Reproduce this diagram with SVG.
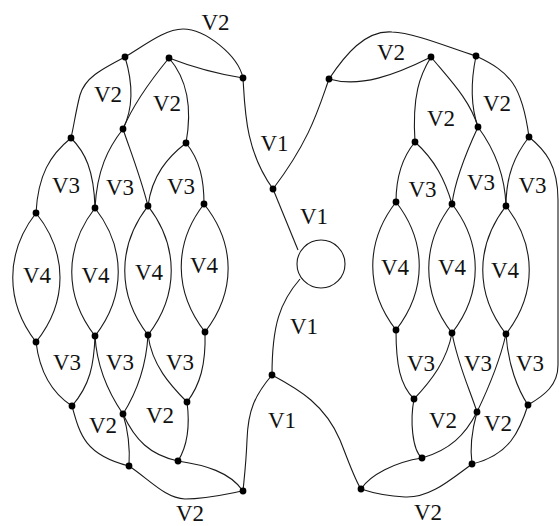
<svg xmlns="http://www.w3.org/2000/svg" width="559" height="526" viewBox="0 0 559 526">
<style>
.e{fill:none;stroke:#1a1a1a;stroke-width:1.1}
.d{fill:#000}
.t{font-family:"Liberation Serif","Times New Roman",serif;font-size:23px;fill:#111;text-anchor:middle}
</style>
<defs><circle id="dot" r="3.4" class="d"/></defs>
<rect width="559" height="526" fill="#fff"/>
<g id="connectors">
<path class="e" d="M125,57 C145,45 165,29 183,29 C205,29 238,55 243,78"/>
<path class="e" d="M169,58 Q205,72 243,78"/>
<path class="e" d="M125,57 C100,70 85,78 80,95 C76,110 74,125 71,138"/>
<path class="e" d="M125,57 C132,80 135,105 123,129"/>
<path class="e" d="M169,58 C155,75 135,100 123,129"/>
<path class="e" d="M169,58 C188,80 192,110 186,143"/>
<path class="e" d="M243,78 C245,110 245,150 273,189"/>
<path class="e" d="M329,79 C318,110 310,140 273,189"/>
<path class="e" d="M273,189 L298,250"/>
<path class="e" d="M300,279 C280,302 272,325 272,375"/>
<path class="e" d="M272,375 C255,395 248,410 247,440 C246,465 244,480 243,491"/>
<path class="e" d="M272,375 C300,390 325,405 340,440 C350,465 355,480 361,489"/>
<path class="e" d="M71,138 C50,155 38,175 36,213"/>
<path class="e" d="M71,138 C85,152 94,170 95,208"/>
<path class="e" d="M123,129 C108,148 97,170 95,208"/>
<path class="e" d="M123,129 C130,150 140,175 148,206"/>
<path class="e" d="M186,143 C168,157 152,175 148,206"/>
<path class="e" d="M186,143 C200,160 204,180 204,204"/>
<path class="e" d="M36,213 C5,253 5,302 36,342 M36,213 C68,253 68,302 36,342"/>
<path class="e" d="M95,208 C64,248 64,296 95,336 M95,208 C126,248 126,296 95,336"/>
<path class="e" d="M148,206 C117,246 117,295 148,335 M148,206 C179,246 179,295 148,335"/>
<path class="e" d="M204,204 C173,244 174,292 205,332 M204,204 C236,244 236,292 205,332"/>
<path class="e" d="M36,342 C40,375 55,395 72,406"/>
<path class="e" d="M95,336 C94,365 90,385 72,406"/>
<path class="e" d="M95,336 C97,370 110,395 123,414"/>
<path class="e" d="M148,335 C146,370 135,395 123,414"/>
<path class="e" d="M148,335 C152,365 170,385 187,402"/>
<path class="e" d="M205,332 C206,365 200,385 187,402"/>
<path class="e" d="M72,406 C80,435 85,455 129,466"/>
<path class="e" d="M123,414 C128,430 130,450 129,466"/>
<path class="e" d="M123,414 C135,440 150,455 178,461"/>
<path class="e" d="M187,402 C190,425 188,445 178,461"/>
<path class="e" d="M178,461 C205,465 230,472 243,491"/>
<path class="e" d="M129,466 C150,480 165,498 185,499 C210,499 230,493 243,491"/>
<path class="e" d="M329,79 C345,55 365,30 392,32 C415,33 450,48 476,56"/>
<path class="e" d="M329,79 C360,88 395,75 431,57"/>
<path class="e" d="M431,57 C420,75 412,95 415,142"/>
<path class="e" d="M431,57 C450,80 470,100 478,127"/>
<path class="e" d="M476,56 C470,85 472,110 478,127"/>
<path class="e" d="M476,56 C510,72 522,85 529,137"/>
<path class="e" d="M415,142 C400,160 396,180 396,202"/>
<path class="e" d="M415,142 C435,160 445,180 452,204"/>
<path class="e" d="M478,127 C465,155 455,180 452,204"/>
<path class="e" d="M478,127 C495,150 505,175 506,206"/>
<path class="e" d="M529,137 C515,155 506,175 506,206"/>
<path class="e" d="M529,137 C545,150 558,165 558,200 L558,365 C558,385 545,395 528,405"/>
<path class="e" d="M396,202 C365,242 365,290 396,330 M396,202 C427,242 427,290 396,330"/>
<path class="e" d="M452,204 C421,244 421,293 452,333 M452,204 C483,244 483,293 452,333"/>
<path class="e" d="M506,206 C475,246 475,294 506,334 M506,206 C537,246 537,294 506,334"/>
<path class="e" d="M396,330 C396,365 400,385 414,399"/>
<path class="e" d="M452,333 C447,360 432,380 414,399"/>
<path class="e" d="M452,333 C458,365 470,390 477,412"/>
<path class="e" d="M506,334 C500,360 490,385 477,412"/>
<path class="e" d="M506,334 C508,365 518,390 528,405"/>
<path class="e" d="M414,399 C410,420 412,450 422,458"/>
<path class="e" d="M477,412 C465,435 450,450 422,458"/>
<path class="e" d="M477,412 C472,430 470,450 472,464"/>
<path class="e" d="M528,405 C520,430 510,455 472,464"/>
<path class="e" d="M422,458 C395,462 370,475 361,489"/>
<path class="e" d="M472,464 C450,480 430,498 405,497 C385,496 370,492 361,489"/>
</g>
<g id="hub"><circle cx="321" cy="264" r="24" fill="#fff" stroke="#1a1a1a" stroke-width="1.1"/></g>
<g id="n-A"><use href="#dot" x="125" y="57"/></g>
<g id="n-B"><use href="#dot" x="169" y="58"/></g>
<g id="n-C"><use href="#dot" x="243" y="78"/></g>
<g id="n-D"><use href="#dot" x="71" y="138"/></g>
<g id="n-E"><use href="#dot" x="123" y="129"/></g>
<g id="n-F"><use href="#dot" x="186" y="143"/></g>
<g id="n-G"><use href="#dot" x="36" y="213"/></g>
<g id="n-H"><use href="#dot" x="95" y="208"/></g>
<g id="n-I"><use href="#dot" x="148" y="206"/></g>
<g id="n-J"><use href="#dot" x="204" y="204"/></g>
<g id="n-G2"><use href="#dot" x="36" y="342"/></g>
<g id="n-H2"><use href="#dot" x="95" y="336"/></g>
<g id="n-I2"><use href="#dot" x="148" y="335"/></g>
<g id="n-J2"><use href="#dot" x="205" y="332"/></g>
<g id="n-L"><use href="#dot" x="72" y="406"/></g>
<g id="n-M"><use href="#dot" x="123" y="414"/></g>
<g id="n-N"><use href="#dot" x="187" y="402"/></g>
<g id="n-O"><use href="#dot" x="129" y="466"/></g>
<g id="n-P"><use href="#dot" x="178" y="461"/></g>
<g id="n-Q"><use href="#dot" x="243" y="491"/></g>
<g id="n-U1"><use href="#dot" x="273" y="189"/></g>
<g id="n-K"><use href="#dot" x="272" y="375"/></g>
<g id="n-R"><use href="#dot" x="329" y="79"/></g>
<g id="n-S"><use href="#dot" x="431" y="57"/></g>
<g id="n-T"><use href="#dot" x="476" y="56"/></g>
<g id="n-U"><use href="#dot" x="415" y="142"/></g>
<g id="n-V"><use href="#dot" x="478" y="127"/></g>
<g id="n-W"><use href="#dot" x="529" y="137"/></g>
<g id="n-X"><use href="#dot" x="396" y="202"/></g>
<g id="n-Y"><use href="#dot" x="452" y="204"/></g>
<g id="n-Z"><use href="#dot" x="506" y="206"/></g>
<g id="n-X2"><use href="#dot" x="396" y="330"/></g>
<g id="n-Y2"><use href="#dot" x="452" y="333"/></g>
<g id="n-Z2"><use href="#dot" x="506" y="334"/></g>
<g id="n-AA"><use href="#dot" x="414" y="399"/></g>
<g id="n-BB"><use href="#dot" x="477" y="412"/></g>
<g id="n-CC"><use href="#dot" x="528" y="405"/></g>
<g id="n-DD"><use href="#dot" x="422" y="458"/></g>
<g id="n-EE"><use href="#dot" x="472" y="464"/></g>
<g id="n-FF"><use href="#dot" x="361" y="489"/></g>
<g id="labels" class="t">
<text x="215.5" y="30">V2</text>
<text x="108" y="102">V2</text>
<text x="167" y="111">V2</text>
<text x="274.5" y="151">V1</text>
<text x="66" y="193">V3</text>
<text x="120" y="195">V3</text>
<text x="181" y="194">V3</text>
<text x="37" y="283">V4</text>
<text x="95.5" y="283">V4</text>
<text x="149" y="280">V4</text>
<text x="204" y="273">V4</text>
<text x="67" y="370">V3</text>
<text x="120" y="370">V3</text>
<text x="180" y="370">V3</text>
<text x="103" y="433">V2</text>
<text x="160" y="423">V2</text>
<text x="190" y="521">V2</text>
<text x="314" y="224">V1</text>
<text x="304" y="334">V1</text>
<text x="282" y="428">V1</text>
<text x="391" y="60">V2</text>
<text x="441" y="126">V2</text>
<text x="497" y="111">V2</text>
<text x="422.5" y="197">V3</text>
<text x="481" y="190">V3</text>
<text x="532.5" y="193">V3</text>
<text x="395" y="275">V4</text>
<text x="452" y="275">V4</text>
<text x="505" y="278">V4</text>
<text x="421" y="371">V3</text>
<text x="478" y="371">V3</text>
<text x="530" y="371">V3</text>
<text x="443" y="428">V2</text>
<text x="498" y="431">V2</text>
<text x="428" y="520">V2</text>
</g>
</svg>
